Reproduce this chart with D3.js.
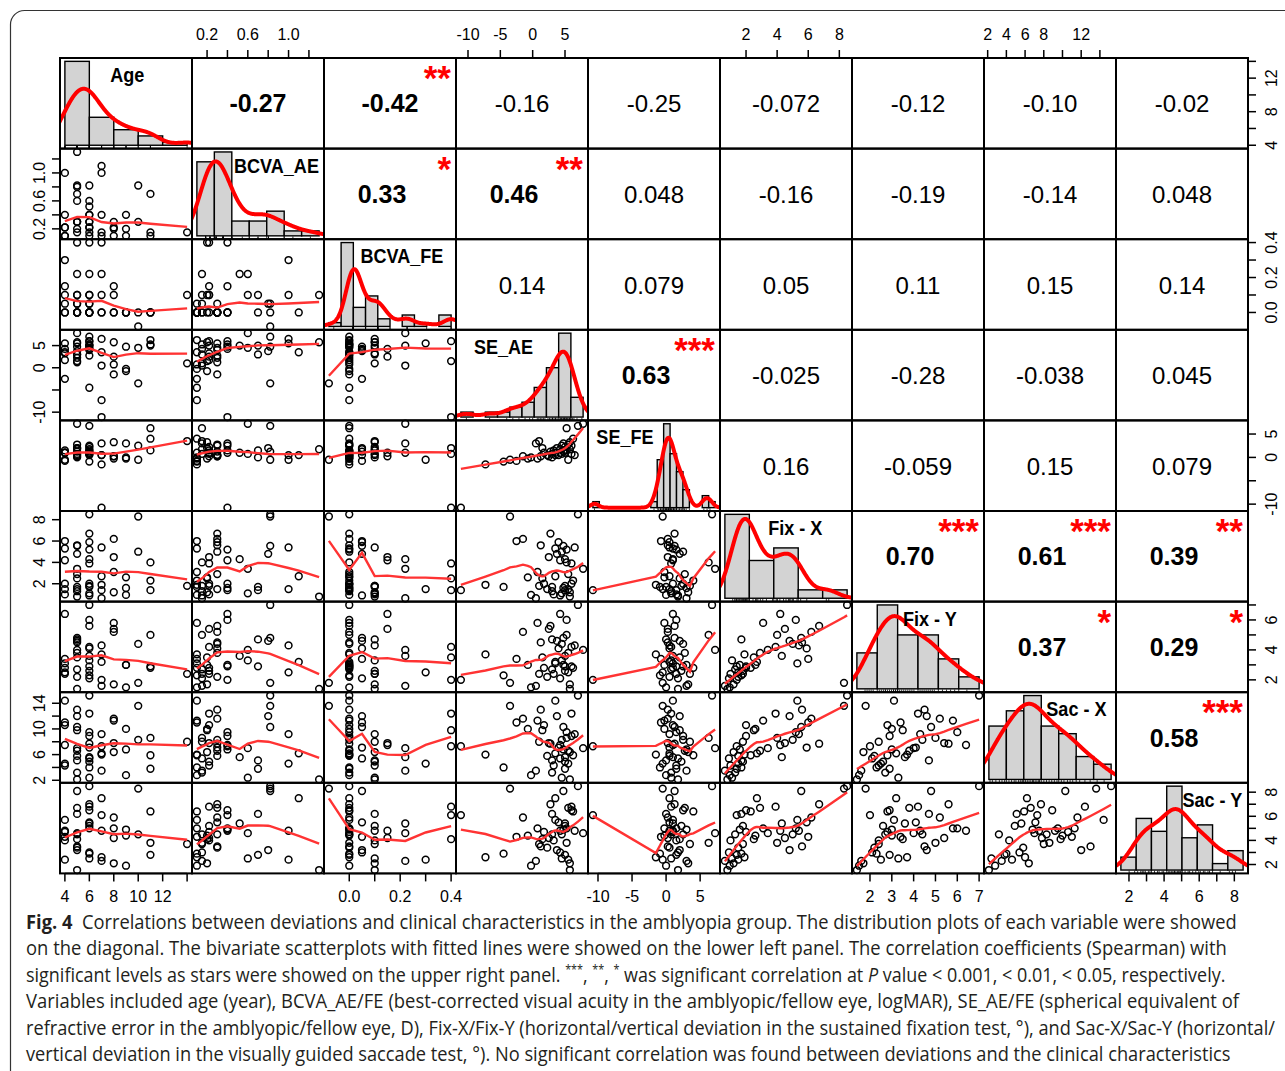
<!DOCTYPE html>
<html>
<head>
<meta charset="utf-8">
<script src="https://cdn.jsdelivr.net/npm/d3@7"></script>
<style>
  body { margin: 0; background: #fff; }
  svg { display: block; }
</style>
</head>
<body>
<svg id="chart" width="1285" height="1071"></svg>
<script>
// ---- data (one entry per subject) ----
var varNames = ["Age", "BCVA_AE", "BCVA_FE", "SE_AE", "SE_FE", "Fix - X", "Fix - Y", "Sac - X", "Sac - Y"];

var age = [4,4,4,4,4,4, 5,5,5,5,5,5,5,5,5,5, 6,6,6,6,6,6,6,6,6,6,6, 7,7,7,7,7, 8,8,8,8, 9,9,9, 10,10, 11,11,11, 14];
var bcvaAE = [1.0,0.4,0.22,0.1,0.22,0.1, 1.3,0.6,0.82,0.7,0.8,0.15,0.2,0.3,0.3,0.3,
              0.82,0.6,0.52,0.22,0.3,0.15,0.22,0.1,0.4,0.4,0.3, 0.4,1.1,1.0,0.15,0.1,
              0.22,0.2,0.1,0.3, 0.4,0.2,0.1, 0.82,0.3, 0.7,0.15,0.1, 0.15];
var bcvaFE = [0.3,0.15,0.1,0.05,0,0, 0.1,0.22,0.05,0.1,0.05,0,0.4,0,0,0,
              0,0.1,0.22,0.1,0.05,0.05,0.4,0,0,0,0, 0.4,0,0.1,0.22,0,
              0.15,0.1,0,0, 0,0,0, -0.08,0, 0,0,0, 0.1];
var seAE = [5.5,4.25,3.25,-2.5,1.75,3.5, 5.75,7.8,4.75,3.0,3.75,3.0,1.5,1.25,2.25,5.5,
            7.0,4.5,5.0,5.0,4.0,4.25,6.0,-4.5,5.25,6.0,2.75, -11.1,3.5,6.5,0.5,-7.3,
            2.5,5.75,0.75,-1.5, 4.75,-0.75,-0.25, -3.5,4.5, 5.0,5.25,6.25, 1.0];
var seFE = [-0.5,1.0,1.5,-0.75,1.0,1.0, 1.75,7.2,1.25,0,2.0,0.75,2.0,0.25,0.5,2.75,
            6.75,0.75,1.0,2.25,0.5,1.75,0.75,-0.9,1.5,2.5,1.25, -10.75,0.5,0.5,3.0,-1.5,
            0.25,3.25,-0.25,0.25, 3.0,-0.25,0, -0.5,2.5, 1.5,6.25,4.0, 3.5];
var fixX = [1.5,4.2,1.0,6.0,2.0,5.3, 0.8,3.4,5.55,1.7,4.8,1.3,2.5,5.6,1.5,2.9,
            8.5,1.1,4.3,1.8,5.9,0.9,3.9,1.7,5.2,2.0,6.7, 1.4,2.7,5.4,0.64,1.9,
            4.5,1.2,3.1,6.2, 1.6,2.6,0.95, 8.3,5.0, 1.4,4.0,2.3, 1.8];
var fixY = [2.5,6.4,2.4,3.4,2.8,3.1, 1.4,4.0,4.8,4.7,4.6,2.7,3.5,4.5,2.2,3.8,
            7.0,3.3,3.6,2.6,4.1,2.1,4.2,2.3,6.0,2.9,5.6, 2.0,3.2,4.3,1.6,3.7,
            5.4,1.7,5.8,5.2, 3.0,3.0,1.5, 1.8,4.4, 2.9,5.0,2.8, 2.4];
var sacX = [4.6,7.5,4.3,11.0,10.6,14.4, 2.13,7.0,10.3,5.1,12.0,3.2,9.8,13.0,5.8,6.6,
            15.2,2.4,5.6,4.9,7.1,5.4,12.4,4.0,9.5,8.9,7.7, 7.3,6.2,9.2,3.5,6.0,
            7.8,6.4,11.3,11.6, 6.8,10.0,2.8, 13.6,8.3, 3.8,8.6,5.9, 8.0];
var sacY = [2.4,4.8,4.0,4.3,4.7,5.7, 1.54,4.6,8.1,6.2,3.2,4.5,4.1,3.5,3.4,6.7,
            8.5,2.5,5.4,5.2,5.5,3.0,6.8,2.9,5.0,6.5,7.0, 6.1,7.5,4.8,2.3,2.6,
            4.2,2.1,5.0,5.9, 4.9,4.4,1.9, 8.3,4.5, 2.8,3.8,6.4, 3.7];

var columns = [age, bcvaAE, bcvaFE, seAE, seFE, fixX, fixY, sacX, sacY];

// histogram breaks (right-closed bins, as R's hist)
var histBreaks = [
  [4, 6, 8, 10, 12, 14],
  [0, 0.2, 0.4, 0.6, 0.8, 1.0, 1.2, 1.4],
  [-0.1, -0.05, 0, 0.05, 0.1, 0.15, 0.2, 0.25, 0.3, 0.35, 0.4],
  [-12, -10, -8, -6, -4, -2, 0, 2, 4, 6, 8],
  [-11, -10, -9, -8, -7, -6, -5, -4, -3, -2, -1, 0, 1, 2, 3, 4, 5, 6, 7, 8],
  [0, 2, 4, 6, 8, 10],
  [1, 2, 3, 4, 5, 6, 7],
  [2, 4, 6, 8, 10, 12, 14, 16],
  [1, 2, 3, 4, 5, 6, 7, 8, 9]
];

// axis ticks and the labels that survive on each side
var tickValues = [
  [4, 6, 8, 10, 12, 14], [0.2, 0.4, 0.6, 0.8, 1.0, 1.2], [0, 0.1, 0.2, 0.3, 0.4],
  [-10, -5, 0, 5], [-10, -5, 0, 5], [2, 4, 6, 8], [2, 3, 4, 5, 6, 7],
  [2, 4, 6, 8, 10, 12, 14], [2, 3, 4, 5, 6, 7, 8]
];
var colLabels = [
  [4, 6, 8, 10, 12], [0.2, 0.6, 1.0], [0, 0.2, 0.4], [-10, -5, 0, 5], [-10, -5, 0, 5],
  [2, 4, 6, 8], [2, 3, 4, 5, 6, 7], [2, 4, 6, 8, 12], [2, 4, 6, 8]
];
var rowLabels = [
  [4, 8, 12], [0.2, 0.6, 1.0], [0, 0.2, 0.4], [-10, 0, 5], [-10, 0, 5],
  [2, 4, 6, 8], [2, 4, 6], [2, 6, 10, 14], [2, 4, 6, 8]
];

// Spearman coefficients of the upper panels, row by row
var corrText = [
  "-0.27", "-0.42", "-0.16", "-0.25", "-0.072", "-0.12", "-0.10", "-0.02",
  "0.33", "0.46", "0.048", "-0.16", "-0.19", "-0.14", "0.048",
  "0.14", "0.079", "0.05", "0.11", "0.15", "0.14",
  "0.63", "-0.025", "-0.28", "-0.038", "0.045",
  "0.16", "-0.059", "0.15", "0.079",
  "0.70", "0.61", "0.39",
  "0.37", "0.29",
  "0.58"
];
var corrStars = [
  "", "**", "", "", "", "", "", "",
  "*", "**", "", "", "", "", "",
  "", "", "", "", "", "",
  "***", "", "", "", "",
  "", "", "", "",
  "***", "***", "**",
  "*", "*",
  "***"
];
var corrBold = [
  1, 1, 0, 0, 0, 0, 0, 0,
  1, 1, 0, 0, 0, 0, 0,
  0, 0, 0, 0, 0, 0,
  1, 0, 0, 0, 0,
  0, 0, 0, 0,
  1, 1, 1,
  1, 1,
  1
];

var captionLines = [
  "Correlations between deviations and clinical characteristics in the amblyopia group. The distribution plots of each variable were showed",
  "on the diagonal. The bivariate scatterplots with fitted lines were showed on the lower left panel. The correlation coefficients (Spearman) with",
  "",
  "Variables included age (year), BCVA_AE/FE (best-corrected visual acuity in the amblyopic/fellow eye, logMAR), SE_AE/FE (spherical equivalent of",
  "refractive error in the amblyopic/fellow eye, D), Fix-X/Fix-Y (horizontal/vertical deviation in the sustained fixation test, °), and Sac-X/Sac-Y (horizontal/",
  "vertical deviation in the visually guided saccade test, °). No significant correlation was found between deviations and the clinical characteristics"
];

// ---- layout ----
var W = 1285, H = 1071;
var gridX = 60, gridY = 58, cellW = 132, cellH = 90.6;
var nv = varNames.length;
var labelPos = [0.51, 0.64, 0.59, 0.36, 0.28, 0.57, 0.59, 0.70, 0.73];
var captionEnd = [1238, 1227, 1226, 1240, 1276, 1232];
var font = "'Liberation Sans', Arial, Helvetica, sans-serif";

var svg = d3.select("#chart");
svg.append("rect").attr("width", W).attr("height", H).attr("fill", "#fff");
svg.append("rect")
  .attr("x", 10.5).attr("y", 10.5).attr("width", 1320).attr("height", 1120).attr("rx", 14)
  .attr("fill", "none").attr("stroke", "#333").attr("stroke-width", 1.2);

function padDomain(lo, hi) { var r = hi - lo; return [lo - 0.04 * r, hi + 0.04 * r]; }
function fmt(j, v) { return (j === 1 || j === 2) ? v.toFixed(1) : String(v); }

var xScales = columns.map(function (col, j) {
  var e = d3.extent(col);
  return d3.scaleLinear().domain(padDomain(e[0], e[1])).range([gridX + j * cellW, gridX + (j + 1) * cellW]);
});
var yScales = columns.map(function (col, i) {
  var e = d3.extent(col);
  return d3.scaleLinear().domain(padDomain(e[0], e[1])).range([gridY + (i + 1) * cellH, gridY + i * cellH]);
});

// R-style lowess (f = 2/3, 3 robustness iterations)
function lowess(x, y, f, iter) {
  var n = x.length;
  var order = d3.range(n).sort(function (a, b) { return x[a] - x[b]; });
  var xs = order.map(function (i) { return x[i]; }), ys = order.map(function (i) { return y[i]; });
  var ns = Math.max(2, Math.min(n, Math.floor(f * n + 1e-7)));
  var xr = xs[n - 1] - xs[0];
  var rw = xs.map(function () { return 1; }), fit = new Array(n);
  for (var it = 0; it <= iter; it++) {
    for (var i = 0; i < n; i++) {
      var dist = xs.map(function (v) { return Math.abs(v - xs[i]); }).sort(d3.ascending);
      var h = dist[ns - 1], w = new Array(n), sw = 0, k;
      for (k = 0; k < n; k++) {
        var r = Math.abs(xs[k] - xs[i]), wk;
        if (r <= 0.001 * h) wk = 1;
        else if (r <= 0.999 * h) { var q = r / h; wk = Math.pow(1 - q * q * q, 3); }
        else wk = 0;
        w[k] = wk * rw[k]; sw += w[k];
      }
      if (sw <= 0) { fit[i] = ys[i]; continue; }
      var a = 0, c = 0, s = 0;
      for (k = 0; k < n; k++) { w[k] /= sw; a += w[k] * xs[k]; }
      for (k = 0; k < n; k++) c += w[k] * (xs[k] - a) * (xs[k] - a);
      if (Math.sqrt(c) > 0.001 * xr) {
        var b = (xs[i] - a) / c;
        for (k = 0; k < n; k++) w[k] *= b * (xs[k] - a) + 1;
      }
      for (k = 0; k < n; k++) s += w[k] * ys[k];
      fit[i] = s;
    }
    if (it === iter) break;
    var res = ys.map(function (v, k) { return Math.abs(v - fit[k]); });
    var cmad = 6 * d3.median(res);
    if (cmad < 1e-7) break;
    rw = res.map(function (r) {
      if (r <= 0.001 * cmad) return 1;
      if (r > 0.999 * cmad) return 0;
      var q = r / cmad; return (1 - q * q) * (1 - q * q);
    });
  }
  return xs.map(function (v, k) { return [v, fit[k]]; });
}

// gaussian kernel density with R's bw.nrd0
function density(values) {
  var n = values.length, sorted = values.slice().sort(d3.ascending);
  var sd = d3.deviation(values);
  var iqr = d3.quantileSorted(sorted, 0.75) - d3.quantileSorted(sorted, 0.25);
  var lo = Math.min(sd, iqr / 1.34);
  if (!(lo > 0)) lo = sd;
  var bw = 0.9 * lo * Math.pow(n, -0.2);
  var from = sorted[0] - 3 * bw, to = sorted[n - 1] + 3 * bw;
  return d3.range(512).map(function (k) {
    var x = from + (to - from) * k / 511, s = 0;
    values.forEach(function (v) { var u = (x - v) / bw; s += Math.exp(-0.5 * u * u); });
    return [x, s / (n * bw * Math.sqrt(2 * Math.PI))];
  });
}

var defs = svg.append("defs");
var panels = svg.append("g");
var corrIndex = 0;

for (var i = 0; i < nv; i++) {
  for (var j = 0; j < nv; j++) {
    var px = gridX + j * cellW, py = gridY + i * cellH;
    var clipId = "clip-" + i + "-" + j;
    defs.append("clipPath").attr("id", clipId)
      .append("rect").attr("x", px).attr("y", py).attr("width", cellW).attr("height", cellH);
    var g = panels.append("g");

    if (i === j) {
      // histogram + density + rug
      var brk = histBreaks[j], vals = columns[j], nb = brk.length - 1;
      var counts = d3.range(nb).map(function () { return 0; });
      vals.forEach(function (v) { counts[Math.max(0, d3.bisectLeft(brk, v) - 1)] += 1; });
      var dens = counts.map(function (c, k) { return c / (vals.length * (brk[k + 1] - brk[k])); });
      var hx = d3.scaleLinear().domain(padDomain(brk[0], brk[nb])).range([px, px + cellW]);
      var hy = d3.scaleLinear().domain(padDomain(0, d3.max(dens))).range([py + cellH, py]);

      g.selectAll("rect.bar").data(dens).enter().append("rect")
        .attr("x", function (d, k) { return hx(brk[k]); })
        .attr("width", function (d, k) { return hx(brk[k + 1]) - hx(brk[k]); })
        .attr("y", function (d) { return hy(d); })
        .attr("height", function (d) { return hy(0) - hy(d); })
        .attr("fill", "#d3d3d3").attr("stroke", "#000").attr("stroke-width", 1.4);

      g.selectAll("line.rug").data(vals).enter().append("line")
        .attr("x1", function (d) { return hx(d); }).attr("x2", function (d) { return hx(d); })
        .attr("y1", py + cellH).attr("y2", py + cellH - 0.03 * cellH)
        .attr("stroke", "#000").attr("stroke-width", 0.8);

      g.append("path").datum(density(vals))
        .attr("clip-path", "url(#" + clipId + ")")
        .attr("d", d3.line().x(function (d) { return hx(d[0]); }).y(function (d) { return hy(d[1]); }))
        .attr("fill", "none").attr("stroke", "#ff0000").attr("stroke-width", 4);

      g.append("text")
        .attr("transform", "translate(" + (px + labelPos[j] * cellW) + "," + (py + 24) + ") scale(0.86,1)")
        .attr("text-anchor", "middle").attr("font-family", font).attr("font-weight", "bold")
        .attr("font-size", 21).attr("fill", "#000").text(varNames[j]);
    } else if (i > j) {
      // scatter + lowess
      var xs = columns[j], ys = columns[i], sx = xScales[j], sy = yScales[i];
      g.selectAll("circle").data(xs).enter().append("circle")
        .attr("cx", function (d) { return sx(d); })
        .attr("cy", function (d, k) { return sy(ys[k]); })
        .attr("r", 3.4).attr("fill", "none").attr("stroke", "#000").attr("stroke-width", 1.5);
      g.append("path").datum(lowess(xs, ys, 2 / 3, 3))
        .attr("clip-path", "url(#" + clipId + ")")
        .attr("d", d3.line().x(function (d) { return sx(d[0]); }).y(function (d) { return sy(d[1]); }))
        .attr("fill", "none").attr("stroke", "#ff3333").attr("stroke-width", 2.4);
    } else {
      // correlation text + stars
      var txt = corrText[corrIndex], bold = corrBold[corrIndex], stars = corrStars[corrIndex];
      var dx = (bold && txt.charAt(0) !== "-") ? -8 : 0;
      g.append("text")
        .attr("x", px + cellW / 2 + dx).attr("y", py + cellH / 2 + 9)
        .attr("text-anchor", "middle").attr("font-family", font)
        .attr("font-weight", bold ? "bold" : "normal").attr("font-size", bold ? 25 : 24)
        .attr("fill", "#000").text(txt);
      if (stars) {
        g.append("text")
          .attr("x", px + cellW - 5).attr("y", py + 32)
          .attr("text-anchor", "end").attr("font-family", font).attr("font-weight", "bold")
          .attr("font-size", 35).attr("fill", "#ff0000").text(stars);
      }
      corrIndex++;
    }
  }
}

// panel borders
for (var bi = 0; bi < nv; bi++) {
  for (var bj = 0; bj < nv; bj++) {
    panels.append("rect")
      .attr("x", gridX + bj * cellW).attr("y", gridY + bi * cellH)
      .attr("width", cellW).attr("height", cellH)
      .attr("fill", "none").attr("stroke", "#000").attr("stroke-width", 2);
  }
}

// outer axes: top for even-numbered columns, bottom for odd; left/right alternate by row
var axes = svg.append("g").attr("font-family", font).attr("font-size", 16).attr("fill", "#000");
var tickLen = 8;
for (var ci = 0; ci < nv; ci++) {
  var sc = xScales[ci], onTop = (ci % 2 === 1);
  var edgeY = onTop ? gridY : gridY + nv * cellH;
  var dirY = onTop ? -1 : 1;
  axes.append("line")
    .attr("x1", sc(tickValues[ci][0])).attr("x2", sc(tickValues[ci][tickValues[ci].length - 1]))
    .attr("y1", edgeY).attr("y2", edgeY).attr("stroke", "#000").attr("stroke-width", 1.5);
  tickValues[ci].forEach(function (v) {
    axes.append("line").attr("x1", sc(v)).attr("x2", sc(v))
      .attr("y1", edgeY).attr("y2", edgeY + dirY * tickLen)
      .attr("stroke", "#000").attr("stroke-width", 1.5);
  });
  colLabels[ci].forEach(function (v) {
    axes.append("text").attr("x", sc(v)).attr("y", onTop ? 40 : 902)
      .attr("text-anchor", "middle").text(fmt(ci, v));
  });
}
for (var ri = 0; ri < nv; ri++) {
  var scy = yScales[ri], onRight = (ri % 2 === 0);
  var edgeX = onRight ? gridX + nv * cellW : gridX;
  var dirX = onRight ? 1 : -1;
  axes.append("line")
    .attr("y1", scy(tickValues[ri][0])).attr("y2", scy(tickValues[ri][tickValues[ri].length - 1]))
    .attr("x1", edgeX).attr("x2", edgeX).attr("stroke", "#000").attr("stroke-width", 1.5);
  tickValues[ri].forEach(function (v) {
    axes.append("line").attr("y1", scy(v)).attr("y2", scy(v))
      .attr("x1", edgeX).attr("x2", edgeX + dirX * tickLen)
      .attr("stroke", "#000").attr("stroke-width", 1.5);
  });
  rowLabels[ri].forEach(function (v) {
    var lx = onRight ? 1277 : 45;
    axes.append("text")
      .attr("transform", "translate(" + lx + "," + scy(v) + ") rotate(-90)")
      .attr("text-anchor", "middle").text(fmt(ri, v));
  });
}

// caption: condensed by scaling each line to the width it has in the figure
var cap = svg.append("g").attr("font-family", "'Open Sans', 'Liberation Sans', sans-serif")
  .attr("font-size", 20).attr("fill", "#231f20");
captionLines.forEach(function (line, k) {
  var t = cap.append("text").attr("x", 0).attr("y", 0);
  if (k === 0) {
    t.append("tspan").attr("font-weight", "bold").text("Fig. 4");
    t.append("tspan").text("\u00a0 " + line);
  } else if (k === 2) {
    t.append("tspan").text("significant levels as stars were showed on the upper right panel. ");
    t.append("tspan").attr("font-size", 12).attr("baseline-shift", "super").text("***");
    t.append("tspan").text(", ");
    t.append("tspan").attr("font-size", 12).attr("baseline-shift", "super").text("**");
    t.append("tspan").text(", ");
    t.append("tspan").attr("font-size", 12).attr("baseline-shift", "super").text("*");
    t.append("tspan").text(" was significant correlation at ");
    t.append("tspan").attr("font-style", "italic").text("P");
    t.append("tspan").text(" value < 0.001, < 0.01, < 0.05, respectively.");
  } else {
    t.text(line);
  }
  var natural = t.node().getComputedTextLength();
  var sxc = (captionEnd[k] - 26) / natural;
  t.attr("transform", "translate(26," + (929 + k * 26.4) + ") scale(" + sxc + ",1)");
});
</script>
</body>
</html>
